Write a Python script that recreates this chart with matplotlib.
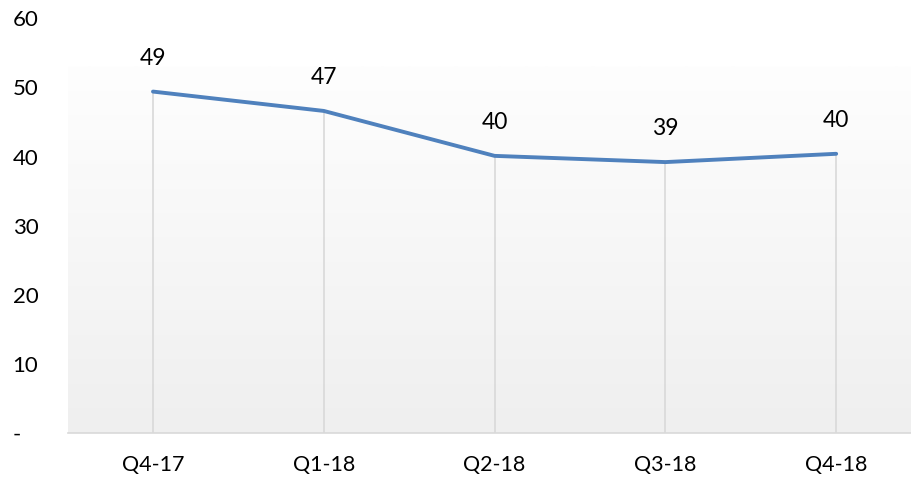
import numpy as np
import matplotlib.pyplot as plt
from matplotlib.colors import LinearSegmentedColormap

quarters = ["Q4-17", "Q1-18", "Q2-18", "Q3-18", "Q4-18"]
values = [49.4, 46.6, 40.1, 39.2, 40.4]
labels = ["49", "47", "40", "39", "40"]
yticks = [0, 10, 20, 30, 40, 50, 60]
ytick_labels = ["-   ", "10", "20", "30", "40", "50", "60"]

plt.rcParams['font.family'] = ['Lato', 'DejaVu Sans']

fig = plt.figure(figsize=(9.12, 4.78), dpi=100)
ax = fig.add_axes([0.0741, 0.094, 0.9364, 0.8677])

x = np.arange(len(quarters))
ax.set_xlim(-0.5, len(quarters) - 0.5)
ax.set_ylim(0, 60)

# gradient plot area (white at top, light grey at bottom)
cmap = LinearSegmentedColormap.from_list("bg", ["#fefefe", "#efefef"])
grad = np.linspace(0, 1, 256).reshape(-1, 1)
ax.imshow(grad, cmap=cmap, aspect="auto", extent=[-0.5, len(quarters) - 0.5, 0, 53],
          origin="upper", zorder=0, interpolation="bilinear")

# drop lines
ax.vlines(x, 0, values, color="#d9d9d9", linewidth=1.2, zorder=1)

ax.plot(x, values, color="#4f81bd", linewidth=2.8, solid_capstyle="round", zorder=3)

for xi, v, lab in zip(x, values, labels):
    ax.annotate(lab, (xi, v), xytext=(0, 24), textcoords="offset points",
                ha="center", va="center", fontsize=16.5, color="#000000")

ax.set_xticks(x)
ax.set_xticklabels(quarters, fontsize=15.5)
ax.set_yticks(yticks)
ax.set_yticklabels(ytick_labels, fontsize=16)
ax.tick_params(axis="x", length=0, pad=16)
ax.tick_params(axis="y", length=0, pad=21)

for s in ["top", "right", "left"]:
    ax.spines[s].set_visible(False)
ax.spines["bottom"].set_color("#d9d9d9")
ax.spines["bottom"].set_linewidth(1.2)
ax.patch.set_visible(False)

fig.savefig("out.png", dpi=100)
